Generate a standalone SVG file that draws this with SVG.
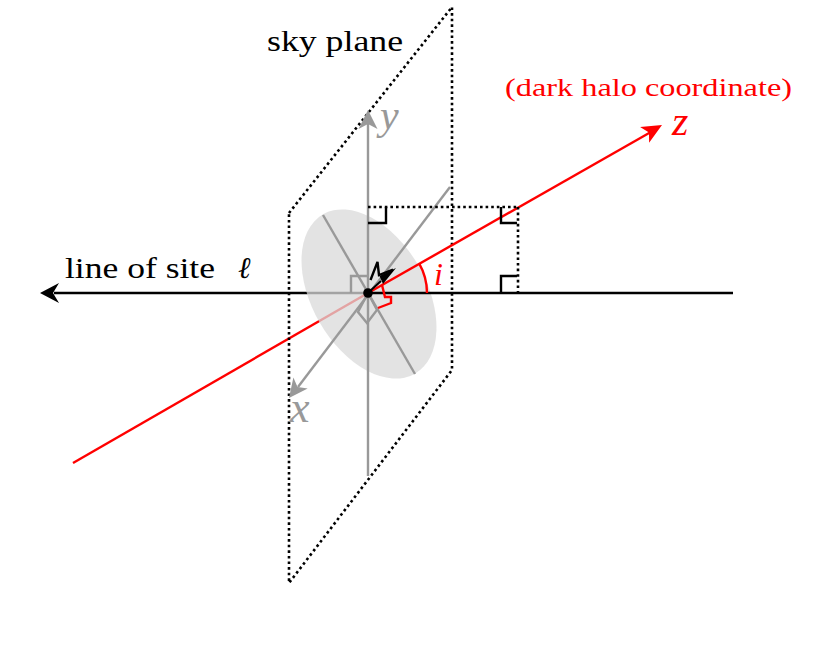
<svg xmlns="http://www.w3.org/2000/svg" width="830" height="646" viewBox="0 0 830 646">
<style>
.blk{stroke:#000;stroke-width:2.4;fill:none}
.red{stroke:#ff0000;stroke-width:2.4;fill:none}
.gry{stroke:#999999;stroke-width:2.4;fill:none}
.dot{stroke:#000;stroke-width:2.6;fill:none;stroke-dasharray:2.6 3}
.txt{font-family:"Liberation Serif","DejaVu Serif",serif}
.it{font-style:italic}
</style>
<rect width="830" height="646" fill="#ffffff"/>
<g id="connectors">
  <line class="blk" x1="54" y1="293" x2="368" y2="293"/>
  <line class="red" x1="73" y1="463" x2="368" y2="293"/>
</g>
<g id="halo">
  <ellipse cx="369" cy="294" rx="92" ry="57" transform="rotate(60 369 294)" fill="#d9d9d9" fill-opacity="0.75"/>
</g>
<g id="sky-plane">
  <path class="dot" d="M289,213 L452,7 L452,370 L289,583 Z"/>
</g>
<g id="sky-axes">
  <line class="gry" x1="368" y1="476" x2="368" y2="124"/>
  <path d="M368,110 L377.5,129 L368,124 L358.5,129 Z" fill="#999999"/>
  <line class="gry" x1="450" y1="187" x2="298" y2="387"/>
  <path d="M289,398 L293.4,377.4 L297.5,386.9 L307.7,388.4 Z" fill="#999999"/>
  <line class="gry" x1="323" y1="215" x2="415" y2="374"/>
  <polyline class="gry" points="351,293 351,276 368,276"/>
  <polygon class="gry" points="368,293 358,312 367,323 377,310"/>
</g>
<g id="front">
  <line class="blk" x1="368" y1="293" x2="733" y2="293"/>
  <path d="M40,293 L59,283 L53,293 L59,303 Z" fill="#000"/>
  <line class="red" x1="368" y1="293" x2="650" y2="132.5"/>
  <path d="M662,125 L649.1,142.7 L649,132.5 L640.1,127.1 Z" fill="#ff0000"/>
</g>
<g id="projections">
  <line class="dot" x1="368" y1="207" x2="518" y2="207"/>
  <line class="dot" x1="518" y1="207" x2="518" y2="293"/>
  <polyline class="blk" points="368,223 386,223 386,207"/>
  <polyline class="blk" points="501,207 501,223 517,223"/>
  <polyline class="blk" points="501,293 501,276 517,276"/>
</g>
<g id="angle">
  <path class="red" d="M427,293 A59,59 0 0 0 419.2,263.7"/>
  <polyline class="red" points="382,285 385,297 391,297 391,303 378,308"/>
</g>
<g id="observer">
  <polyline points="370.5,280 377.5,262 379,275 393,269.5" stroke="#000" stroke-width="2.4" fill="none" stroke-linejoin="miter"/>
  <path d="M396,268 L379.5,276 L383,284 Z" fill="#000"/>
  <line x1="381" y1="281" x2="370" y2="291" stroke="#000" stroke-width="2"/>
  <circle cx="368" cy="293" r="4.8" fill="#000"/>
</g>
<g id="labels">
  <text class="txt" x="267" y="51" font-size="29" textLength="136" lengthAdjust="spacingAndGlyphs">sky plane</text>
  <text class="txt" x="65" y="278" font-size="30" textLength="150" lengthAdjust="spacingAndGlyphs">line of site</text>
  <text class="txt it" x="238" y="278" font-size="30">ℓ</text>
  <text class="txt" x="505" y="96" font-size="25" fill="#ff0000" textLength="287" lengthAdjust="spacingAndGlyphs">(dark halo coordinate)</text>
  <text class="txt it" x="672" y="135" font-size="42" fill="#ff0000">z</text>
  <text class="txt it" x="380" y="129" font-size="42" fill="#999999">y</text>
  <text class="txt it" x="290" y="422" font-size="44" fill="#999999">x</text>
  <text class="txt it" x="434" y="285" font-size="32" fill="#ff0000">i</text>
</g>
</svg>
